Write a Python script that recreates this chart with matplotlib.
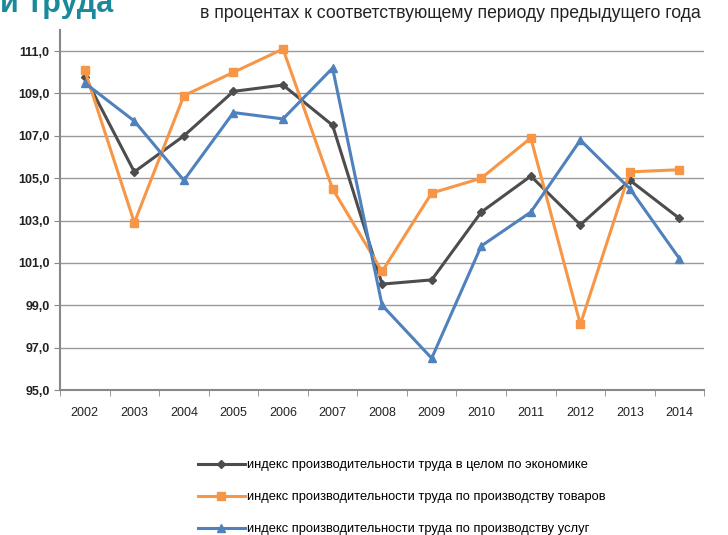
import matplotlib.pyplot as plt
from matplotlib.ticker import FuncFormatter

plt.rcParams['font.family'] = ['Liberation Sans', 'DejaVu Sans']

years = ['2002', '2003', '2004', '2005', '2006', '2007', '2008',
         '2009', '2010', '2011', '2012', '2013', '2014']
economy = [109.8, 105.3, 107.0, 109.1, 109.4, 107.5, 100.0,
           100.2, 103.4, 105.1, 102.8, 104.9, 103.1]
goods = [110.1, 102.9, 108.9, 110.0, 111.1, 104.5, 100.6,
         104.3, 105.0, 106.9, 98.1, 105.3, 105.4]
services = [109.5, 107.7, 104.9, 108.1, 107.8, 110.2, 99.0,
            96.5, 101.8, 103.4, 106.8, 104.5, 101.2]

labels = ['индекс производительности труда в целом по экономике',
          'индекс производительности труда по производству товаров',
          'индекс производительности труда по производству услуг']

fig = plt.figure(figsize=(7.28, 5.35), dpi=100)
ax = fig.add_axes([0.0824, 0.271, 0.885, 0.673])

x = range(len(years))
ax.plot(x, economy, color='#4d4d4d', lw=2.2, marker='D', ms=4, label=labels[0])
ax.plot(x, goods, color='#f79646', lw=2.2, marker='s', ms=6, label=labels[1])
ax.plot(x, services, color='#4f81bd', lw=2.2, marker='^', ms=6, label=labels[2])

ax.set_xlim(-0.5, len(years) - 0.5)
ax.set_ylim(95, 112)
ax.set_yticks(range(95, 112, 2))
ax.yaxis.set_major_formatter(FuncFormatter(lambda v, p: f'{v:.1f}'.replace('.', ',')))
ax.set_xticks(list(x))
ax.set_xticklabels(years)
ax.set_xticks([i + 0.5 for i in range(-1, len(years))], minor=True)
ax.tick_params(axis='x', which='major', length=0, pad=12, labelsize=9, colors='#222222')
ax.tick_params(axis='x', which='minor', length=4, color='#888888')
ax.tick_params(axis='y', length=4, color='#888888', labelsize=9, colors='#222222')
for t in ax.get_yticklabels():
    t.set_fontweight('bold')

ax.grid(axis='y', color='#999999', lw=1)
ax.set_axisbelow(True)
for s in ['top', 'right']:
    ax.spines[s].set_visible(False)
for s in ['left', 'bottom']:
    ax.spines[s].set_color('#888888')
    ax.spines[s].set_linewidth(1.5)

fig.text(0.962, 0.975, 'в процентах к соответствующему периоду предыдущего года',
         ha='right', va='center', fontsize=12.7, color='#222222')
fig.text(0.0, 0.992, 'и труда', ha='left', va='center', fontsize=22,
         fontweight='bold', color='#1a8a9a')

fig.legend(loc='upper left', bbox_to_anchor=(0.272, 0.142), frameon=False,
           fontsize=9.3, handlelength=3.6, handletextpad=0.2, labelspacing=1.55,
           borderaxespad=0, borderpad=0)

fig.savefig('out.png', dpi=100)
